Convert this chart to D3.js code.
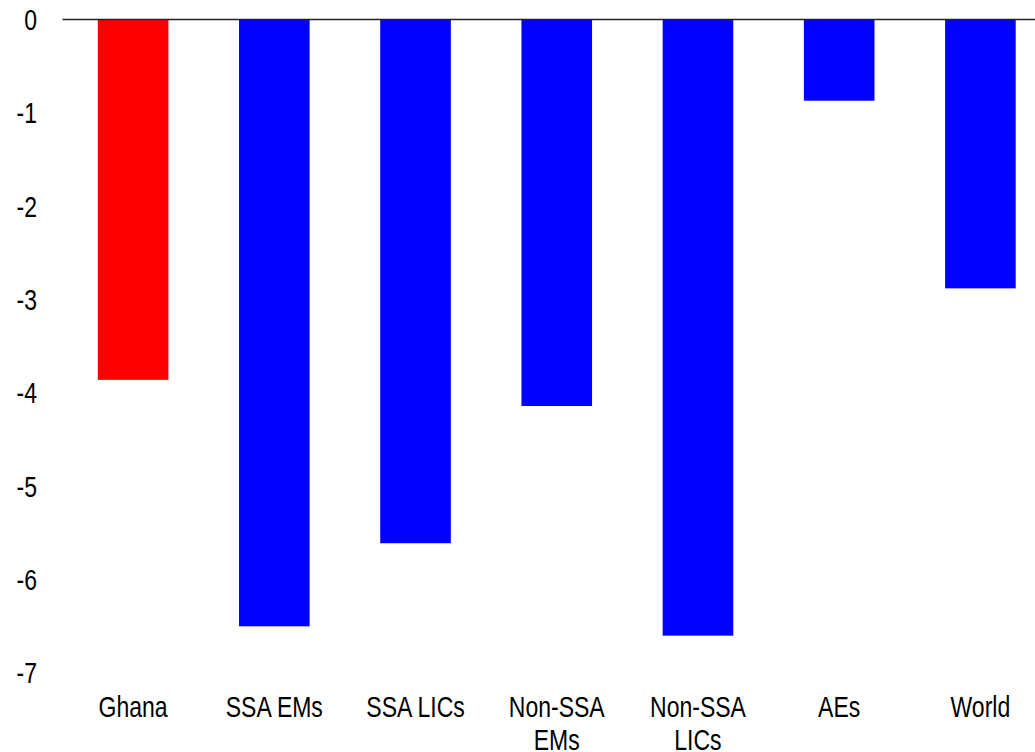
<!DOCTYPE html>
<html>
<head>
<meta charset="utf-8">
<script src="https://cdn.jsdelivr.net/npm/d3@7"></script>
<style>
  body { margin: 0; background: #fff; }
  svg { display: block; font-family: "Liberation Sans", Arial, sans-serif; }
</style>
</head>
<body>
<svg id="chart" width="1035" height="752"></svg>
<script>
// chart data
var categories = ["Ghana", "SSA EMs", "SSA LICs", "Non-SSA EMs", "Non-SSA LICs", "AEs", "World"];
var labelLines = [["Ghana"], ["SSA EMs"], ["SSA LICs"], ["Non-SSA", "EMs"], ["Non-SSA", "LICs"], ["AEs"], ["World"]];
var values = [-3.86, -6.5, -5.61, -4.14, -6.6, -0.87, -2.88];
var barColors = ["#ff0000", "#0000ff", "#0000ff", "#0000ff", "#0000ff", "#0000ff", "#0000ff"];
var yTicks = [0, -1, -2, -3, -4, -5, -6, -7];

// the original text is a bit taller than it is wide
var stretch = 1.25;

var svg = d3.select("#chart");

// scales
var x = d3.scaleBand()
  .domain(categories)
  .range([62.5, 1051])
  .paddingInner(0.5)
  .paddingOuter(0.25);

var y = d3.scaleLinear()
  .domain([0, -7])
  .range([19.5, 673]);

// y axis labels (no line, no ticks)
svg.append("g")
  .selectAll("text")
  .data(yTicks)
  .enter()
  .append("text")
  .attr("transform", d => "translate(37," + y(d) + ") scale(1," + stretch + ")")
  .attr("dy", "0.36em")
  .attr("text-anchor", "end")
  .attr("font-size", 23)
  .attr("fill", "#000")
  .text(d => d);

// bars
svg.append("g")
  .selectAll("rect")
  .data(values)
  .enter()
  .append("rect")
  .attr("x", (d, i) => x(categories[i]))
  .attr("width", x.bandwidth())
  .attr("y", d => y(0))
  .attr("height", d => y(d) - y(0))
  .attr("fill", (d, i) => barColors[i]);

// zero line
svg.append("line")
  .attr("x1", 62.5)
  .attr("x2", 1035)
  .attr("y1", y(0))
  .attr("y2", y(0))
  .attr("stroke", "#222")
  .attr("stroke-width", 1.5);

// category labels, some split over two lines
var labels = svg.append("g")
  .selectAll("text")
  .data(labelLines)
  .enter()
  .append("text")
  .attr("text-anchor", "middle")
  .attr("font-size", 23)
  .attr("fill", "#000")
  .attr("transform", (d, i) => "translate(" + (x(categories[i]) + x.bandwidth() / 2) + ",717) scale(1," + stretch + ")");

labels.selectAll("tspan")
  .data(d => d)
  .enter()
  .append("tspan")
  .attr("x", 0)
  .attr("y", (d, i) => i * 33 / stretch)
  .text(d => d);
</script>
</body>
</html>
